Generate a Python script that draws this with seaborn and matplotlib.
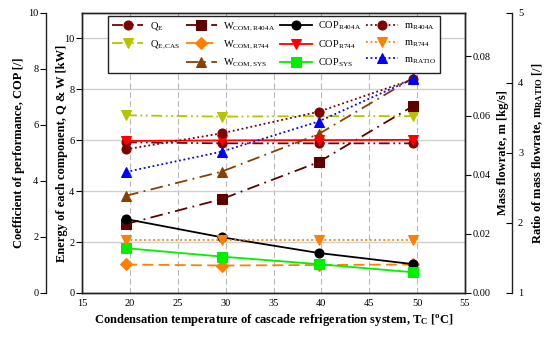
import matplotlib
matplotlib.use('Agg')
import matplotlib.pyplot as plt
import seaborn as sns
import numpy as np
from matplotlib.lines import Line2D

# data
tc = [19.6, 29.6, 39.7, 49.6]

q_e = [5.92, 5.88, 5.88, 5.88]
q_e_cas = [6.98, 6.93, 6.95, 6.95]
w_com_r404a = [2.71, 3.69, 5.14, 7.35]
w_com_r744 = [1.12, 1.08, 1.10, 1.12]
w_com_sys = [3.82, 4.77, 6.24, 8.45]

cop_r404a = [2.64, 1.99, 1.43, 1.03]
cop_r744 = [5.43, 5.45, 5.46, 5.47]
cop_sys = [1.60, 1.30, 1.03, 0.74]

m_r404a = [0.0486, 0.0540, 0.0613, 0.0723]
m_r744 = [0.0178, 0.0178, 0.0178, 0.0178]
m_ratio = [2.73, 3.02, 3.45, 4.06]

x_ticks = [15, 20, 25, 30, 35, 40, 45, 50, 55]

plt.rcParams['font.family'] = ['Liberation Serif', 'DejaVu Serif']
plt.rcParams['mathtext.fontset'] = 'custom'
plt.rcParams['mathtext.rm'] = 'Liberation Serif'
plt.rcParams['mathtext.it'] = 'Liberation Serif:italic'
plt.rcParams['mathtext.bf'] = 'Liberation Serif:bold'
plt.rcParams['axes.linewidth'] = 1.0
plt.rcParams['axes.edgecolor'] = '#222222'

fig, ax = plt.subplots(figsize=(5.5, 3.38), dpi=100)
fig.subplots_adjust(left=82/550, right=465/550, top=1-13/338, bottom=1-293/338)

ax_cop = ax.twinx()
ax_m = ax.twinx()
ax_r = ax.twinx()

dashdotdot = (0, (6, 2, 1, 2, 1, 2))
ms = 6.5

def draw(axis, y, color, marker, ls, label, mec=None):
    sns.lineplot(x=tc, y=y, ax=axis, color=color, marker=marker, linestyle=ls,
                 markersize=ms, markeredgecolor=mec or color, linewidth=1.3,
                 label=label, legend=False)

# energy
draw(ax, q_e, '#800000', 'o', dashdotdot, r'Q$_\mathrm{E}$')
draw(ax, q_e_cas, '#b4c400', 'v', dashdotdot, r'Q$_\mathrm{E,CAS}$')
draw(ax, w_com_r404a, '#600000', 's', (0, (7, 3, 1, 3)), r'W$_\mathrm{COM,R404A}$')
draw(ax, w_com_r744, '#ff8000', 'D', (0, (6, 3)), r'W$_\mathrm{COM,R744}$')
draw(ax, w_com_sys, '#8b4000', '^', (0, (7, 3, 1, 3)), r'W$_\mathrm{COM,SYS}$')
# COP
draw(ax_cop, cop_r404a, 'black', 'o', '-', r'COP$_\mathrm{R404A}$')
draw(ax_cop, cop_r744, '#ff0000', 'v', '-', r'COP$_\mathrm{R744}$')
draw(ax_cop, cop_sys, '#00f000', 's', '-', r'COP$_\mathrm{SYS}$')
# mass flow
draw(ax_m, m_r404a, '#800000', 'o', (0, (1, 1.5)), r'm$_\mathrm{R404A}$')
draw(ax_m, m_r744, '#ff8000', 'v', (0, (1, 1.5)), r'm$_\mathrm{R744}$')
draw(ax_r, m_ratio, '#0000ff', '^', (0, (1, 1.5)), r'm$_\mathrm{RATIO}$')

# main axis
ax.set_xlim(15, 55)
ax.set_ylim(0, 11)
ax.set_xticks(x_ticks)
ax.set_yticks([0, 2, 4, 6, 8, 10])
ax.yaxis.grid(True, color='#d0d0d0', linewidth=1.0, linestyle='-')
ax.xaxis.grid(True, color='#b8b8b8', linewidth=0.8, linestyle=(0, (5, 3)))
ax.set_axisbelow(True)
ax.tick_params(axis='x', length=0, pad=4, labelsize=7.5)
ax.tick_params(axis='y', direction='out', length=4, pad=1.5, labelsize=7.5)
ax.set_xlabel(r'Condensation temperature of cascade refrigeration system, T$_\mathbf{C}$ [$^\mathbf{o}$C]',
              fontsize=9, fontweight='bold', labelpad=3)
ax.set_ylabel('Energy of each component, Q & W [kW]', fontsize=9, fontweight='bold')
ax.yaxis.set_label_coords(-0.036, 0.5)

# COP axis on far left
ax_cop.set_ylim(0, 10)
ax_cop.set_yticks([0, 2, 4, 6, 8, 10])
ax_cop.spines['left'].set_position(('axes', -0.094))
ax_cop.spines['left'].set_visible(True)
for s in ['right', 'top', 'bottom']:
    ax_cop.spines[s].set_visible(False)
ax_cop.yaxis.set_ticks_position('left')
ax_cop.yaxis.set_label_position('left')
ax_cop.tick_params(axis='y', direction='out', length=4, pad=1.5, labelsize=7.5)
ax_cop.set_ylabel('Coefficient of performance, COP [/]', fontsize=9, fontweight='bold')
ax_cop.yaxis.set_label_coords(-0.150, 0.5)

# mass flow axis on the right spine
ax_m.set_ylim(0, 0.0947)
ax_m.set_yticks([0.0, 0.02, 0.04, 0.06, 0.08])
ax_m.yaxis.set_major_formatter(matplotlib.ticker.FormatStrFormatter('%.2f'))
ax_m.tick_params(axis='y', direction='out', length=4, pad=1.5, labelsize=7.5)
ax_m.set_ylabel('Mass flowrate, m [kg/s]', fontsize=9, fontweight='bold')
ax_m.yaxis.set_label_coords(1.084, 0.5)

# ratio axis on far right
ax_r.set_ylim(1, 5)
ax_r.set_yticks([1, 2, 3, 4, 5])
ax_r.spines['right'].set_position(('axes', 1.124))
for s in ['left', 'top', 'bottom']:
    ax_r.spines[s].set_visible(False)
ax_r.tick_params(axis='y', direction='in', length=4, pad=4, labelsize=7.5)
ax_r.set_ylabel(r'Ratio of mass flowrate, m$_\mathbf{RATIO}$ [/]', fontsize=9, fontweight='bold')
ax_r.yaxis.set_label_coords(1.170, 0.5)

# legend gathered from all axes, 4 columns, first column with a blank slot
handles = {}
for a in [ax, ax_cop, ax_m, ax_r]:
    for h, l in zip(*a.get_legend_handles_labels()):
        handles[l] = h
blank = Line2D([], [], linestyle='none', marker='none')
order = [r'Q$_\mathrm{E}$', r'Q$_\mathrm{E,CAS}$', None,
         r'W$_\mathrm{COM,R404A}$', r'W$_\mathrm{COM,R744}$', r'W$_\mathrm{COM,SYS}$',
         r'COP$_\mathrm{R404A}$', r'COP$_\mathrm{R744}$', r'COP$_\mathrm{SYS}$',
         r'm$_\mathrm{R404A}$', r'm$_\mathrm{R744}$', r'm$_\mathrm{RATIO}$']
hs = [handles[k] if k else blank for k in order]
ls = [k if k else '' for k in order]
leg = ax_r.legend(hs, ls, ncol=4, loc='upper left', bbox_to_anchor=(0.068, 0.99),
                  borderaxespad=0, fontsize=7.5, frameon=True, fancybox=False,
                  edgecolor='#222222', framealpha=1, handlelength=3.0,
                  handletextpad=0.6, columnspacing=0.5, labelspacing=0.55,
                  borderpad=0.4)
leg.get_frame().set_linewidth(1.0)

fig.savefig('out.png', dpi=100)
